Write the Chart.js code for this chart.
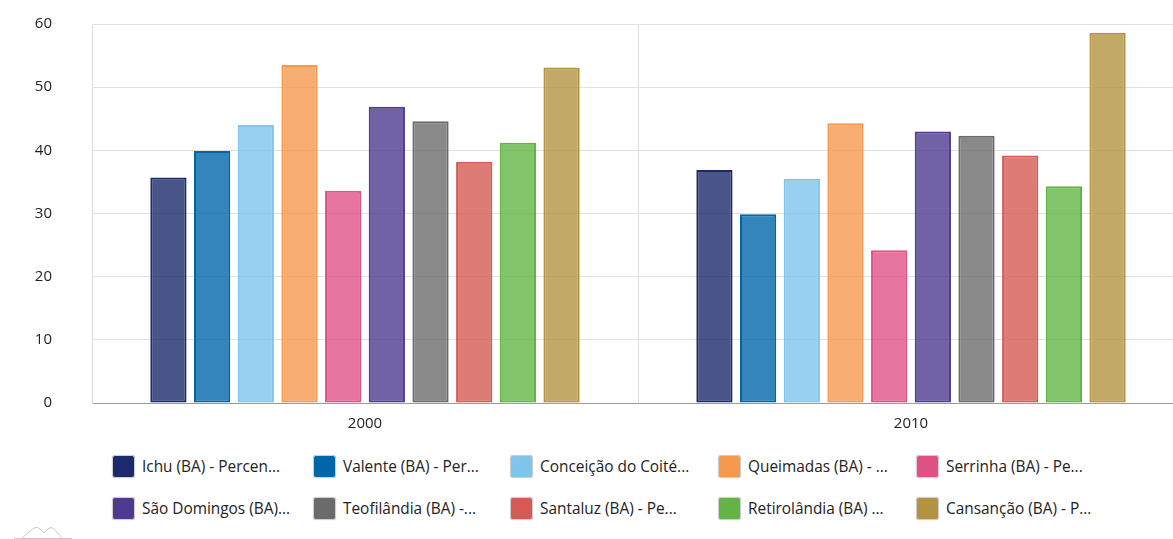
<!DOCTYPE html>
<html lang="pt-BR">
<head>
<meta charset="utf-8">
<title>Percentual por município (BA) — 2000 e 2010</title>
<script src="https://cdn.jsdelivr.net/npm/chart.js@4.4.1/dist/chart.umd.min.js"></script>
<style>
  html, body { margin: 0; padding: 0; background: #fff; overflow: hidden; }
  body { width: 1173px; height: 539px; position: relative; font-family: "Open Sans", sans-serif; }
  #chart { position: absolute; left: 0; top: -25px; }
  #legend {
    position: absolute; left: 112px; top: 455px;
    display: grid; grid-template-columns: 201px 197px 208px 198px 200px;
    row-gap: 19px;
  }
  .item { display: flex; align-items: center; height: 23px; font-size: 15.4px; color: #222; white-space: nowrap; }
  .box {
    width: 21px; height: 21px; border: 1px solid #cfcfcf; border-radius: 3px;
    margin-right: 7px; box-shadow: 0 0 1px rgba(0,0,0,0.25); flex: none;
  }
  #logo { position: absolute; left: 12px; top: 522px; }
</style>
</head>
<body>
<canvas id="chart" width="1184" height="477"></canvas>
<div id="legend"></div>
<svg id="logo" width="64" height="17" viewBox="0 0 64 17">
  <path d="M10 16 L22 6 Q25 4 28 7 L32 11 L36 7 Q39 4 42 7 L50 16" fill="none" stroke="#c8c8c8" stroke-width="1"/>
  <line x1="2" y1="16.5" x2="60" y2="16.5" stroke="#c8c8c8" stroke-width="1"/>
</svg>
<script>
// Anos (categorias do eixo X)
const years = ['2000', '2010'];

// Rótulos da legenda (abreviados)
const seriesLabels = [
  'Ichu (BA) - Percen...',
  'Valente (BA) - Per...',
  'Conceição do Coité...',
  'Queimadas (BA) - ...',
  'Serrinha (BA) - Pe...',
  'São Domingos (BA)...',
  'Teofilândia (BA) -...',
  'Santaluz (BA) - Pe...',
  'Retirolândia (BA) ...',
  'Cansanção (BA) - P...'
];

// Valores por município: [2000, 2010]
const ichu         = [35.7, 36.9];
const valente      = [39.9, 29.9];
const conceicao    = [44.0, 35.5];
const queimadas    = [53.5, 44.3];
const serrinha     = [33.6, 24.2];
const saoDomingos  = [46.9, 43.0];
const teofilandia  = [44.6, 42.3];
const santaluz     = [38.2, 39.2];
const retirolandia = [41.2, 34.3];
const cansancao    = [53.1, 58.6];

// Marcas do eixo Y
const yTicks = [0, 10, 20, 30, 40, 50, 60];

const seriesValues = [ichu, valente, conceicao, queimadas, serrinha,
                      saoDomingos, teofilandia, santaluz, retirolandia, cansancao];

const seriesColors = ['#1b2a6b', '#0066aa', '#7ec4ec', '#f5994f', '#e05286',
                      '#4e3a91', '#6b6b6b', '#d45a53', '#62b545', '#b39342'];

function withAlpha(hex, a) {
  const n = parseInt(hex.slice(1), 16);
  return `rgba(${(n >> 16) & 255}, ${(n >> 8) & 255}, ${n & 255}, ${a})`;
}

const datasets = seriesLabels.map((label, i) => ({
  label,
  data: seriesValues[i],
  backgroundColor: withAlpha(seriesColors[i], 0.8),
  borderColor: seriesColors[i],
  borderWidth: 2,
  borderSkipped: false,
  categoryPercentage: 0.8,
  barPercentage: 0.83
}));

const tickFont = { family: '"Open Sans", sans-serif', size: 15 };

new Chart(document.getElementById('chart'), {
  type: 'bar',
  data: { labels: years, datasets },
  options: {
    responsive: false,
    animation: false,
    layout: { padding: 0 },
    plugins: { legend: { display: false }, tooltip: { enabled: false } },
    scales: {
      x: {
        grid: { display: true, offset: true, color: '#dcdcdc', drawTicks: false },
        border: { display: true, color: '#9a9a9a', width: 1 },
        ticks: { color: '#222', font: tickFont, padding: 12 },
        afterFit: (axis) => { axis.height = 37; }
      },
      y: {
        min: 0, max: 60,
        afterBuildTicks: (axis) => { axis.ticks = yTicks.map(v => ({ value: v })); },
        grid: { color: '#e2e2e2', drawTicks: false },
        border: { display: true, color: '#dcdcdc' },
        ticks: { color: '#222', font: tickFont, padding: 40 },
        afterFit: (axis) => { axis.width = 92; }
      }
    }
  }
});

// Legenda em HTML, gerada a partir das séries
const legend = document.getElementById('legend');
seriesLabels.forEach((label, i) => {
  const item = document.createElement('div');
  item.className = 'item';
  const box = document.createElement('span');
  box.className = 'box';
  box.style.background = seriesColors[i];
  const txt = document.createElement('span');
  txt.textContent = label;
  item.appendChild(box);
  item.appendChild(txt);
  legend.appendChild(item);
});
</script>
</body>
</html>
